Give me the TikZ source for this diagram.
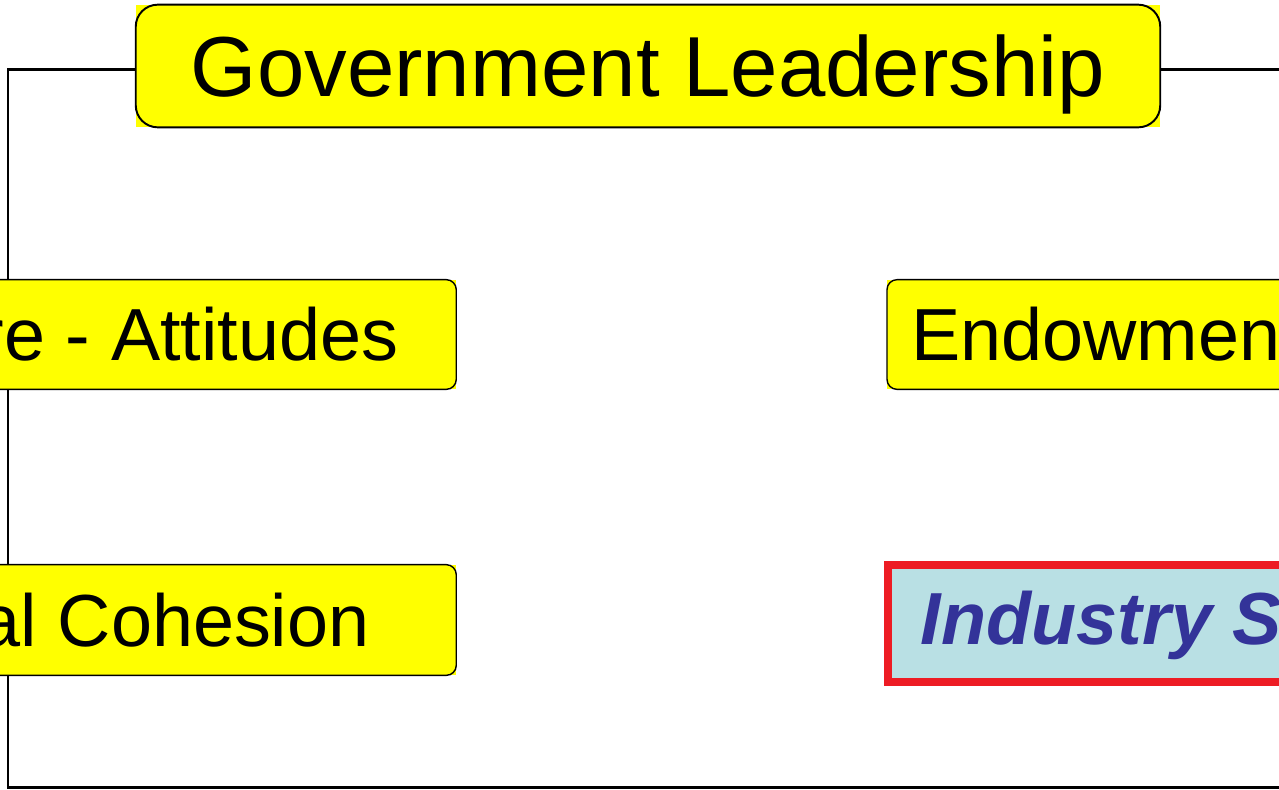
\documentclass[tikz,border=0pt]{standalone}
\usepackage{fontspec}
\setmainfont{Liberation Sans}
\usetikzlibrary{positioning}
\definecolor{boxyellow}{RGB}{255,255,0}
\definecolor{frameRed}{RGB}{237,28,36}
\definecolor{paleBlue}{RGB}{185,224,228}
\definecolor{inkBlue}{RGB}{51,51,153}
\tikzset{
  ybox/.style={fill=boxyellow, inner sep=0pt, font=\fontsize{42}{44}\selectfont},
  link/.style={line width=1.7pt},
}
\begin{document}
\begin{tikzpicture}[x=0.02cm,y=-0.02cm]
\useasboundingbox (0,0) rectangle (1279,789);
\clip (0,0) rectangle (1279,789);

\node[ybox, minimum width=20.48cm, minimum height=2.44cm, text depth=0pt, font=\fontsize{48.5}{50}\selectfont] (gov) at (648,66) {Government Leadership};

% loop round the diagram
\coordinate (cornerSW) at (8,787);
\coordinate (cornerSE) at (1310,787);
\draw[link] ([yshift=-0.06cm]gov.west) -| (cornerSW) -- (cornerSE) |- ([yshift=-0.06cm]gov.east);

\node[ybox, minimum width=14.12cm, minimum height=2.18cm] (cult) at (103,334.5) {Culture - Attitudes};
\node[ybox, minimum width=14.12cm, minimum height=2.2cm] (coh) at (103,620) {Social Cohesion};
\node[ybox, anchor=west, inner xsep=0.48cm, minimum height=2.18cm] (endow) at (887,334.5) {Endowments};

\foreach \n/\r/\w in {gov/0.44cm/1.1pt, cult/0.2cm/0.8pt, endow/0.2cm/0.8pt, coh/0.2cm/0.8pt}
  \draw[line width=\w, rounded corners=\r] (\n.south west) rectangle (\n.north east);

\node[anchor=west, draw=frameRed, line width=4.5pt, fill=paleBlue, text=inkBlue,
      inner xsep=0.66cm, inner ysep=0pt, minimum height=2.34cm, text depth=7pt,
      font=\fontsize{42}{44}\selectfont\bfseries\itshape] (ind) at (884,623.5) {Industry Structure};

\end{tikzpicture}
\end{document}
